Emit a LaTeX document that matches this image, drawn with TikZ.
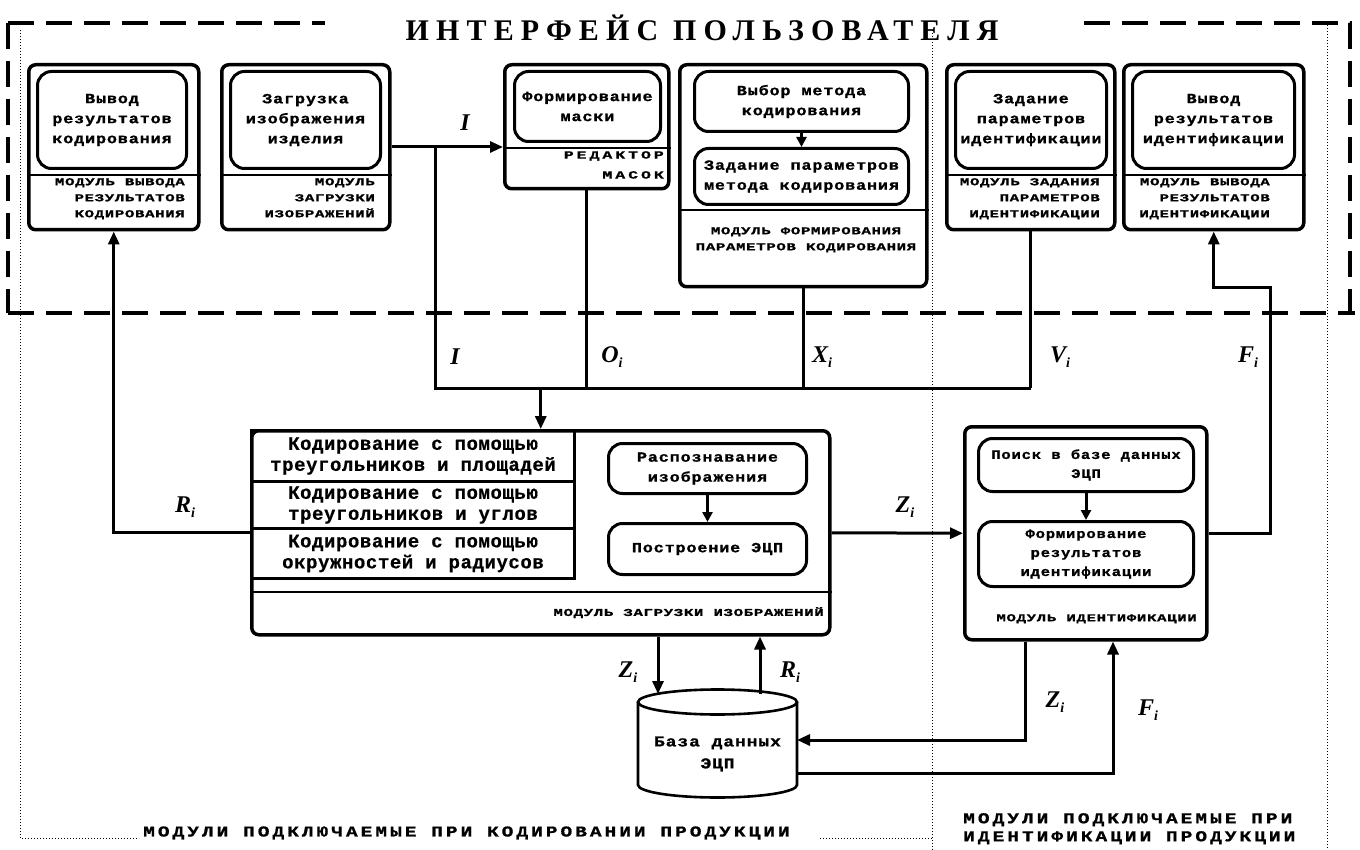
\documentclass[tikz,border=0pt]{standalone}
\usepackage{fontspec}
\usetikzlibrary{arrows.meta}
\newfontfamily\titlefam[LetterSpace=24]{Liberation Serif}
\newfontfamily\monofam[LetterSpace=6,FakeStretch=1.2,FakeBold=1]{Liberation Mono}
\newfontfamily\capsfam[LetterSpace=6,FakeStretch=1.5,FakeBold=1]{Liberation Mono}
\newfontfamily\wcapsfam[LetterSpace=27,FakeStretch=1.5,FakeBold=1]{Liberation Mono}
\newfontfamily\cellfam[LetterSpace=3,FakeBold=0.5]{Liberation Mono}
\newfontfamily\botfam[LetterSpace=20,FakeStretch=1.3,FakeBold=1]{Liberation Mono}
\newfontfamily\sigfam{Liberation Serif}
\newcommand\titlef{\titlefam\bfseries\fontsize{30}{34}\selectfont}
\newcommand\boxf{\monofam\bfseries\fontsize{14}{20}\selectfont}
\newcommand\lblf{\capsfam\bfseries\fontsize{10.5}{16}\selectfont}
\newcommand\wlblf{\wcapsfam\bfseries\fontsize{11}{20}\selectfont}
\newcommand\cellf{\cellfam\bfseries\fontsize{19}{21}\selectfont}
\newcommand\botf{\botfam\bfseries\fontsize{15}{18}\selectfont}
\newcommand\sigf{\sigfam\bfseries\itshape\fontsize{24}{24}\selectfont}
\newcommand\sbx[1]{\raisebox{-5pt}{\fontsize{14}{14}\selectfont #1}}
\begin{document}
\begin{tikzpicture}[x=1pt,y=-1pt,
  outerbox/.style={draw, line width=3.5pt, rounded corners=7pt, inner sep=0pt, anchor=north west},
  innerbox/.style={draw, line width=3pt, rounded corners=14pt, inner sep=0pt, align=center, font=\boxf, anchor=north west},
  cellbox/.style={draw, line width=3pt, inner sep=0pt, align=center, font=\cellf, anchor=north west},
  modlbl/.style={font=\lblf, align=right, anchor=north east, inner sep=0pt},
  conn/.style={line width=3pt},
  arr/.style={conn, -{Triangle[length=13pt,width=11pt]}},
  sarr/.style={conn, -{Triangle[length=10pt,width=10pt]}},
  sigl/.style={font=\sigf, inner sep=0pt},
  sepline/.style={line width=1.4pt},
  dashb/.style={line width=3.2pt, dash pattern=on 26pt off 12pt},
  dotb/.style={line width=1pt, dash pattern=on 1pt off 2pt},
  dbline/.style={line width=2.6pt}]
\useasboundingbox (0,0) rectangle (1360,850);

% ---- frames ----
\draw[dashb] (8,23) -- (325,23);
\draw[dashb] (1084,23) -- (1350,23) -- (1350,313);
\draw[dashb] (8,23) -- (8,313);
\draw[dashb] (8,313) -- (1355,313);
\node[font=\titlef, inner sep=0pt] (title) at (702,28) {ИНТЕРФЕЙС ПОЛЬЗОВАТЕЛЯ};

\draw[dotb] (20,30) -- (20,838) -- (139,838);
\draw[dotb] (820,838) -- (932,838);
\draw[dotb] (932,30) -- (932,850);
\draw[dotb] (1327,25) -- (1327,850);

\node[font=\botf, anchor=west, inner sep=0pt] (botL) at (143,833) {МОДУЛИ ПОДКЛЮЧАЕМЫЕ ПРИ КОДИРОВАНИИ ПРОДУКЦИИ};
\node[font=\botf, align=left, anchor=north west, inner sep=0pt] (botR) at (963,813) {МОДУЛИ ПОДКЛЮЧАЕМЫЕ ПРИ\\ИДЕНТИФИКАЦИИ ПРОДУКЦИИ};

% ---- top modules ----
\node[outerbox, minimum width=170pt, minimum height=165pt] (m1) at (27,63) {};
\node[innerbox, minimum width=149pt, minimum height=97pt] (m1i) at (36,70) {Вывод\\результатов\\кодирования};
\coordinate (s1) at (0,175);
\draw[sepline] (m1.west |- s1) -- (m1.east |- s1);
\node[modlbl] (m1l) at (185,178) {МОДУЛЬ ВЫВОДА\\РЕЗУЛЬТАТОВ\\КОДИРОВАНИЯ};

\node[outerbox, minimum width=168pt, minimum height=165pt] (m2) at (220,63) {};
\node[innerbox, minimum width=150pt, minimum height=97pt] (m2i) at (229,70) {Загрузка\\изображения\\изделия};
\draw[sepline] (m2.west |- s1) -- (m2.east |- s1);
\node[modlbl] (m2l) at (375,178) {МОДУЛЬ\\ЗАГРУЗКИ\\ИЗОБРАЖЕНИЙ};

\node[outerbox, minimum width=164pt, minimum height=124pt] (m3) at (503,63) {};
\node[innerbox, minimum width=146pt, minimum height=70pt] (m3i) at (513,70) {Формирование\\маски};
\coordinate (s3) at (0,148);
\draw[sepline] (m3.west |- s3) -- (m3.east |- s3);
\node[modlbl, font=\wlblf] (m3l) at (664,151) {РЕДАКТОР\\МАСОК};

\node[outerbox, minimum width=247pt, minimum height=222pt] (m4) at (678,63) {};
\node[innerbox, minimum width=214pt, minimum height=60pt] (m4a) at (693,70) {Выбор метода\\кодирования};
\node[innerbox, minimum width=214pt, minimum height=56pt] (m4b) at (693,147) {Задание параметров\\метода кодирования};
\draw[sarr] (m4a.south) -- (m4b.north);
\coordinate (s4) at (0,210);
\draw[sepline] (m4.west |- s4) -- (m4.east |- s4);
\node[font=\lblf, align=center, anchor=north, inner sep=0pt] (m4l) at (806,227) {МОДУЛЬ ФОРМИРОВАНИЯ\\ПАРАМЕТРОВ КОДИРОВАНИЯ};

\node[outerbox, minimum width=168pt, minimum height=165pt] (m5) at (945,63) {};
\node[innerbox, minimum width=151pt, minimum height=97pt] (m5i) at (954,70) {Задание\\параметров\\идентификации};
\draw[sepline] (m5.west |- s1) -- (m5.east |- s1);
\node[modlbl] (m5l) at (1100,178) {МОДУЛЬ ЗАДАНИЯ\\ПАРАМЕТРОВ\\ИДЕНТИФИКАЦИИ};

\node[outerbox, minimum width=180pt, minimum height=165pt] (m6) at (1122,63) {};
\node[innerbox, minimum width=162pt, minimum height=97pt] (m6i) at (1131,70) {Вывод\\результатов\\идентификации};
\draw[sepline] (m6.west |- s1) -- (m6.east |- s1);
\node[modlbl] (m6l) at (1270,178) {МОДУЛЬ ВЫВОДА\\РЕЗУЛЬТАТОВ\\ИДЕНТИФИКАЦИИ};

% ---- encoding module ----
\node[outerbox, minimum width=578pt, minimum height=204pt] (big) at (250,429) {};
\node[cellbox, minimum width=323pt, minimum height=51pt] (c1) at (250,429) {Кодирование с помощью\\треугольников и площадей};
\node[cellbox, minimum width=323pt, minimum height=47pt] (c2) at (250,480) {Кодирование с помощью\\треугольников и углов};
\node[cellbox, minimum width=323pt, minimum height=50pt] (c3) at (250,527) {Кодирование с помощью\\окружностей и радиусов};
\node[innerbox, minimum width=198pt, minimum height=50pt] (bga) at (607,442) {Распознавание\\изображения};
\node[innerbox, minimum width=198pt, minimum height=51pt] (bgb) at (607,522) {Построение ЭЦП};
\draw[sarr] (bga.south) -- (bgb.north);
\coordinate (s5) at (0,592);
\draw[sepline] (big.west |- s5) -- (big.east |- s5);
\node[modlbl] (bigl) at (824,607) {МОДУЛЬ ЗАГРУЗКИ ИЗОБРАЖЕНИЙ};

% ---- identification module ----
\node[outerbox, minimum width=242pt, minimum height=213pt] (ident) at (963,425) {};
\node[innerbox, minimum width=215pt, minimum height=53pt, font=\monofam\bfseries\fontsize{13}{19}\selectfont] (ida) at (977,437) {Поиск в базе данных\\ЭЦП};
\node[innerbox, minimum width=215pt, minimum height=65pt, font=\monofam\bfseries\fontsize{13}{19}\selectfont] (idb) at (977,520) {Формирование\\результатов\\идентификации};
\draw[sarr] (ida.south) -- (idb.north);
\node[modlbl] (idl) at (1197,614) {МОДУЛЬ ИДЕНТИФИКАЦИИ};

% ---- database ----
\draw[dbline] (638,702) -- (638,785) arc[start angle=180, end angle=0, x radius=79.5, y radius=12.5] -- (797,702);
\draw[dbline] (717.5,702) ellipse [x radius=79.5, y radius=12.5];
\node[font=\monofam\bfseries\fontsize{15}{22}\selectfont, align=center, inner sep=0pt] (db) at (717.5,754) {База данных\\ЭЦП};
\coordinate (dbZ) at (658,694);
\coordinate (dbR) at (760,694);
\coordinate (dbIn) at (797,740);
\coordinate (dbOut) at (797,773);

% ---- connectors ----
\coordinate (yI) at (0,147);
\coordinate (jI) at (435,147);
\coordinate (colL) at (435,388);
\draw[arr] (m2.east |- yI) -- (m3.west |- yI);
\draw[conn] (jI) -- (colL) -- (m5.south |- colL);
\draw[conn] (m3.south) -- (m3.south |- colL);
\draw[conn] (m4.south) -- (m4.south |- colL);
\draw[conn] (m5.south) -- (m5.south |- colL);
\draw[arr] (big.north |- colL) -- (big.north);

\draw[arr] (big.west) -- (big.west -| m1.south) -- (m1.south);
\draw[arr] (big.east) -- (ident.west);

\coordinate (fx) at (1270,0);
\coordinate (fy) at (0,288);
\draw[arr] (ident.east) -- (ident.east -| fx) -- (fx |- fy) -- (m6.south |- fy) -- (m6.south);

\draw[arr] (big.south -| dbZ) -- (dbZ);
\draw[arr] (dbR) -- (dbR |- big.south);

\coordinate (zl) at (1025,740);
\coordinate (fl) at (1113,773);
\draw[arr] (ident.south -| zl) -- (zl) -- (dbIn);
\draw[arr] (dbOut) -- (fl) -- (fl |- ident.south);

% ---- signal labels ----
\node[sigl] (lI1) at (465,123) {I};
\node[sigl] (lI2) at (455,357) {I};
\node[sigl] (lO) at (612,357) {O\sbx{i}};
\node[sigl] (lX) at (822,357) {X\sbx{i}};
\node[sigl] (lV) at (1060,357) {V\sbx{i}};
\node[sigl] (lF1) at (1248,357) {F\sbx{i}};
\node[sigl] (lR1) at (185,507) {R\sbx{i}};
\node[sigl] (lZ1) at (905,507) {Z\sbx{i}};
\node[sigl] (lZ2) at (628,672) {Z\sbx{i}};
\node[sigl] (lR2) at (790,672) {R\sbx{i}};
\node[sigl] (lZ3) at (1055,702) {Z\sbx{i}};
\node[sigl] (lF2) at (1148,710) {F\sbx{i}};
\end{tikzpicture}
\end{document}
